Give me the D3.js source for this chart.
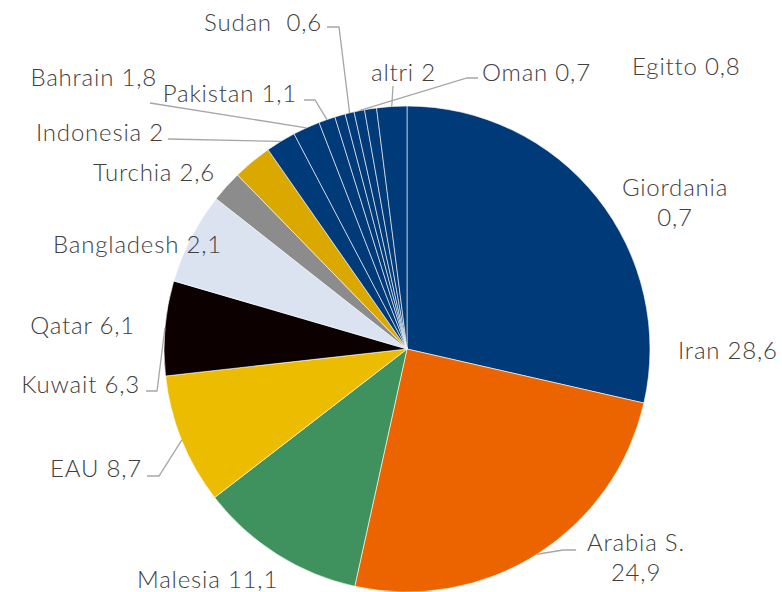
<!DOCTYPE html>
<html>
<head>
<meta charset="utf-8">
<script src="https://cdn.jsdelivr.net/npm/d3@7"></script>
<style>
  html, body { margin: 0; padding: 0; background: #fff; }
  svg { display: block; }
  text { font-family: Lato, "Noto Sans", sans-serif; font-weight: 300; fill: #404040; letter-spacing: 0.8px; white-space: pre; }
</style>
</head>
<body>
<svg id="chart" width="782" height="592"></svg>
<script>
// Quote per paese (%), in senso orario a partire da ore 12
const countries = ["Iran", "Arabia S.", "Malesia", "EAU", "Kuwait", "Qatar", "Bangladesh", "Turchia",
                   "Indonesia", "Bahrain", "Pakistan", "Giordania", "Sudan", "Oman", "Egitto", "altri"];
const shares = [28.6, 24.9, 11.1, 8.7, 6.3, 6.1, 2.1, 2.6, 2.0, 1.8, 1.1, 0.7, 0.6, 0.7, 0.8, 2.0];
const sliceColors = ["#003a78", "#eb6400", "#3f915e", "#ecbc00", "#0c0000", "#dbe3f0", "#8c8c8c", "#dba800",
                     "#003a78", "#003a78", "#003a78", "#003a78", "#003a78", "#003a78", "#003a78", "#003a78"];

const fmt = v => String(v).replace(".", ",");

// Posizione delle etichette: righe di testo, ancoraggio, e percorso della linea guida
const labelLayout = {
  "Iran":       { x: 678, y: 359, anchor: "start", lines: 1 },
  "Arabia S.":  { x: 636, y: 551, anchor: "middle", lines: 2, leader: [[576, 550], [563, 550]] },
  "Malesia":    { x: 137, y: 588, anchor: "start", lines: 1 },
  "EAU":        { x: 142, y: 477, anchor: "end", lines: 1, leader: [[147, 476], [159, 476]] },
  "Kuwait":     { x: 140, y: 393, anchor: "end", lines: 1, leader: [[146, 391], [157, 391]] },
  "Qatar":      { x: 135, y: 334, anchor: "end", lines: 1 },
  "Bangladesh": { x: 222, y: 253, anchor: "end", lines: 1 },
  "Turchia":    { x: 215, y: 181, anchor: "end", lines: 1 },
  "Indonesia":  { x: 164, y: 141, anchor: "end", lines: 1, leader: [[168, 139]] },
  "Bahrain":    { x: 157, y: 86, anchor: "end", lines: 1, leader: [[150, 103]] },
  "Pakistan":   { x: 297, y: 102, anchor: "end", lines: 1, leader: [[304, 100], [315, 100]] },
  "Giordania":  { x: 675, y: 196, anchor: "middle", lines: 2 },
  "Sudan":      { x: 322, y: 31, anchor: "end", lines: 1, sep: "  ", leader: [[327, 27], [339, 27]] },
  "Oman":       { x: 482, y: 81, anchor: "start", lines: 1, leader: [[478, 78], [467, 78]] },
  "Egitto":     { x: 632, y: 75, anchor: "start", lines: 1 },
  "altri":      { x: 371, y: 81, anchor: "start", lines: 1, leader: [[393, 86]] }
};

const cx = 407, cy = 349, R = 243;
const svg = d3.select("#chart");

const data = countries.map((name, i) => ({ name, value: shares[i], color: sliceColors[i] }));

const pie = d3.pie().value(d => d.value).sort(null);
const arc = d3.arc().innerRadius(0).outerRadius(R);
const edge = d3.arc().innerRadius(R).outerRadius(R);

const arcs = pie(data);
const g = svg.append("g").attr("transform", `translate(${cx},${cy})`);

g.selectAll("path.slice")
  .data(arcs)
  .join("path")
  .attr("class", "slice")
  .attr("d", arc)
  .attr("fill", d => d.data.color)
  .attr("stroke", "#ffffff")
  .attr("stroke-width", 0.6)
  .attr("stroke-linejoin", "round");

// Linee guida: dal testo fino al bordo della fetta, sull'angolo medio
const leaderLine = d3.line();
arcs.forEach(a => {
  const lay = labelLayout[a.data.name];
  if (!lay.leader) return;
  const [ex, ey] = edge.centroid(a);
  const pts = lay.leader.concat([[cx + ex, cy + ey]]);
  svg.append("path")
    .attr("d", leaderLine(pts))
    .attr("fill", "none")
    .attr("stroke", "#a6a6a6")
    .attr("stroke-width", 1.3);
});

// Etichette
const labels = svg.append("g").attr("font-size", 24);
arcs.forEach(a => {
  const lay = labelLayout[a.data.name];
  const t = labels.append("text")
    .attr("x", lay.x)
    .attr("y", lay.y)
    .attr("text-anchor", lay.anchor);
  if (lay.lines === 2) {
    t.append("tspan").attr("x", lay.x).text(a.data.name);
    t.append("tspan").attr("x", lay.x).attr("dy", 30).text(fmt(a.data.value));
  } else {
    t.text(a.data.name + (lay.sep || " ") + fmt(a.data.value));
  }
});
</script>
</body>
</html>
